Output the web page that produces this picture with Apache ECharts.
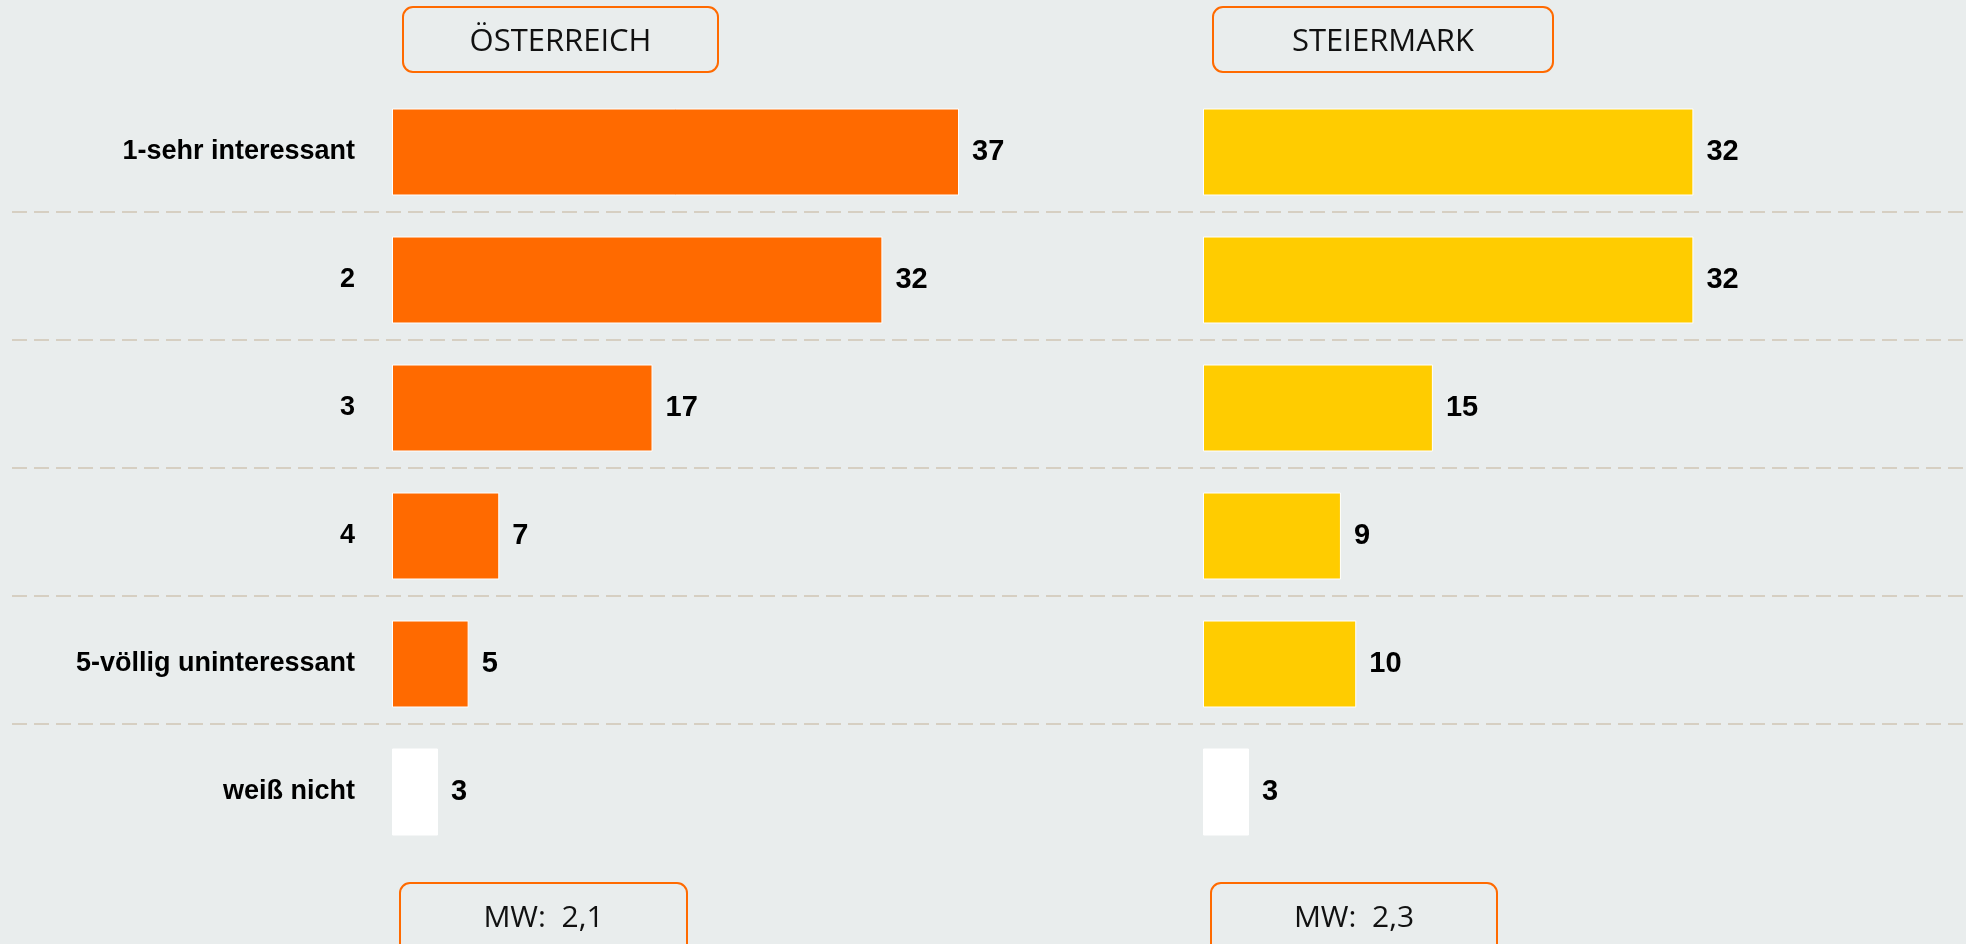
<!DOCTYPE html>
<html>
<head>
<meta charset="utf-8">
<script src="https://cdn.jsdelivr.net/npm/echarts@6/dist/echarts.min.js"></script>
<style>
  html, body { margin: 0; padding: 0; background: #e9eded; }
  #main { width: 1966px; height: 944px; }
</style>
</head>
<body>
<div id="main"></div>
<script>
var categories = ['1-sehr interessant', '2', '3', '4', '5-völlig uninteressant', 'weiß nicht'];
var valuesAT = [37, 32, 17, 7, 5, 3];
var valuesST = [32, 32, 15, 9, 10, 3];
var panelTitles = ['ÖSTERREICH', 'STEIERMARK'];
var meanLabels = ['MW:  2,1', 'MW:  2,3'];

var boldFont = "'Liberation Sans', Arial, sans-serif";
var thinFont = "'Open Sans', 'Noto Sans', sans-serif";

// the last answer ("weiß nicht") is drawn white
function toItems(values, color) {
    var items = [];
    for (var i = 0; i < values.length; i++) {
        items.push({
            value: values[i],
            itemStyle: { color: i === values.length - 1 ? '#ffffff' : color }
        });
    }
    return items;
}

// rounded orange box with centred text
function box(x, y, w, h, text, cy, size) {
    return {
        type: 'group',
        children: [
            {
                type: 'rect',
                shape: { x: x, y: y, width: w, height: h, r: 10 },
                style: { fill: 'transparent', stroke: '#ff6a00', lineWidth: 2 }
            },
            {
                type: 'text',
                x: x + w / 2,
                y: cy,
                style: {
                    text: text,
                    fill: '#111',
                    font: 'normal ' + size + 'px ' + thinFont,
                    textAlign: 'center',
                    textVerticalAlign: 'middle'
                }
            }
        ]
    };
}

var chart = echarts.init(document.getElementById('main'));

var barLabel = {
    show: true,
    position: 'right',
    distance: 13,
    color: '#000',
    fontFamily: boldFont,
    fontWeight: 'bold',
    fontSize: 29,
    padding: [5, 0, 0, 0]
};

option = {
    backgroundColor: '#e9eded',
    animation: false,
    grid: [
        { left: 12, right: 0, top: 84, height: 768 },   // only the dashed separators
        { left: 392, width: 613, top: 88, height: 768 },
        { left: 1203, width: 613, top: 88, height: 768 }
    ],
    xAxis: [
        { gridIndex: 0, type: 'value', show: false },
        { gridIndex: 1, type: 'value', min: 0, max: 40, show: false },
        { gridIndex: 2, type: 'value', min: 0, max: 40, show: false }
    ],
    yAxis: [
        {
            gridIndex: 0,
            type: 'category',
            inverse: true,
            data: categories,
            axisLine: { show: false },
            axisTick: { show: false },
            axisLabel: { show: false },
            splitLine: {
                show: true,
                showMinLine: false,
                showMaxLine: false,
                lineStyle: { color: '#d6cfc2', width: 2, type: [15, 7] }
            }
        },
        {
            gridIndex: 1,
            type: 'category',
            inverse: true,
            data: categories,
            axisLine: { show: false },
            axisTick: { show: false },
            splitLine: { show: false },
            axisLabel: {
                margin: 37,
                color: '#000',
                fontFamily: boldFont,
                fontWeight: 'bold',
                fontSize: 27,
                padding: [5, 0, 0, 0]
            }
        },
        {
            gridIndex: 2,
            type: 'category',
            inverse: true,
            data: categories,
            axisLine: { show: false },
            axisTick: { show: false },
            splitLine: { show: false },
            axisLabel: { show: false }
        }
    ],
    series: [
        {
            name: 'Österreich',
            type: 'bar',
            xAxisIndex: 1,
            yAxisIndex: 1,
            barWidth: 87,
            data: toItems(valuesAT, '#ff6a00'),
            itemStyle: { borderColor: '#ffffff', borderWidth: 1 },
            label: barLabel
        },
        {
            name: 'Steiermark',
            type: 'bar',
            xAxisIndex: 2,
            yAxisIndex: 2,
            barWidth: 87,
            data: toItems(valuesST, '#ffcc00'),
            itemStyle: { borderColor: '#ffffff', borderWidth: 1 },
            label: barLabel
        }
    ],
    graphic: [
        box(403, 7, 315, 65, panelTitles[0], 42, 31),
        box(1213, 7, 340, 65, panelTitles[1], 42, 31),
        box(400, 883, 287, 80, meanLabels[0], 918, 30),
        box(1211, 883, 286, 80, meanLabels[1], 918, 30)
    ]
};

chart.setOption(option);
</script>
</body>
</html>
